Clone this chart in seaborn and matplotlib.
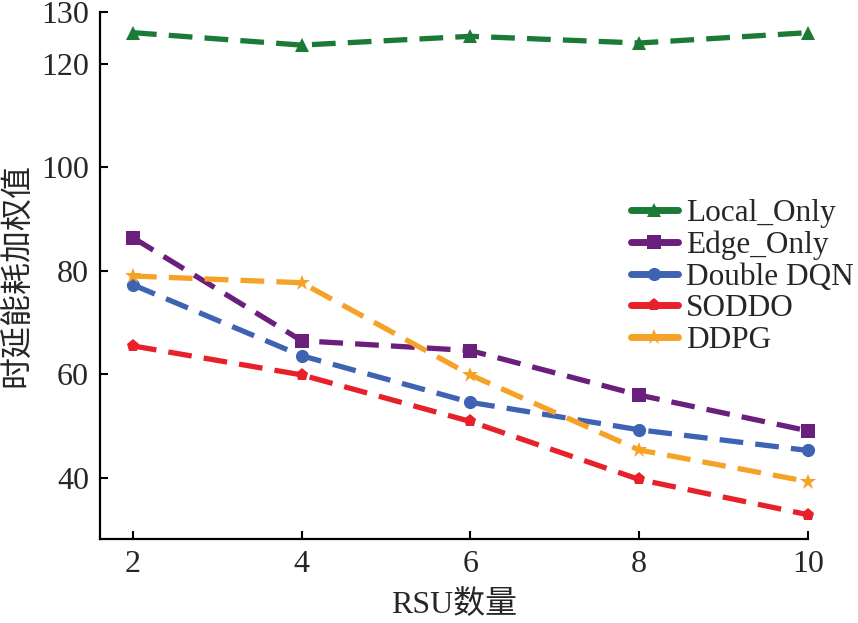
import pandas as pd
import matplotlib
matplotlib.use('Agg')
import matplotlib.pyplot as plt
import seaborn as sns

# data
rsu = [2, 4, 6, 8, 10]
local_only = [126.0, 123.6, 125.3, 124.0, 126.0]
edge_only = [86.4, 66.5, 64.6, 56.0, 49.1]
double_dqn = [77.3, 63.6, 54.6, 49.3, 45.3]
soddo = [65.5, 59.9, 50.9, 39.7, 32.9]
ddpg = [79.0, 77.7, 59.9, 45.4, 39.3]

methods = ['Local_Only', 'Edge_Only', 'Double DQN', 'SODDO', 'DDPG']
values = [local_only, edge_only, double_dqn, soddo, ddpg]

df = pd.DataFrame({
    'RSU': rsu * len(methods),
    'value': [v for vals in values for v in vals],
    'method': [m for m in methods for _ in rsu],
})

colors = {'Local_Only': '#1b7a36', 'Edge_Only': '#6b1f7c', 'Double DQN': '#3f63b3',
          'SODDO': '#e8202a', 'DDPG': '#f5a226'}
markers = {'Local_Only': '^', 'Edge_Only': 's', 'Double DQN': 'o', 'SODDO': 'p', 'DDPG': '*'}

sns.set_style('ticks')
plt.rcParams['font.family'] = ['Liberation Serif', 'Noto Sans CJK SC']

fig = plt.figure(figsize=(8.58, 6.23), dpi=100)
ax = fig.add_axes([0.1166, 0.1348, 0.825, 0.846])

for m in methods:
    sub = df[df['method'] == m]
    sns.lineplot(x='RSU', y='value', data=sub, ax=ax, color=colors[m], marker=markers[m],
                 markersize=12 if m == 'DDPG' else 9.5, markeredgewidth=0,
                 linewidth=3.8, dashes=(4.5, 2.3), label=m, clip_on=False)

ax.set_xlim(1.61, 10)
ax.set_ylim(28.2, 130)
ax.set_xticks(rsu)
ax.set_yticks([40, 60, 80, 100, 120, 130])
ax.tick_params(direction='in', length=6, width=1.5, labelsize=23, pad=8, color='black')
for s in ['left', 'bottom']:
    ax.spines[s].set_linewidth(1.6)
    ax.spines[s].set_color('black')
sns.despine(ax=ax)

ax.set_xlabel('RSU数量', fontsize=23, labelpad=8)
ax.set_ylabel('时延能耗加权值', fontsize=23, labelpad=6)

leg = ax.legend(loc='upper left', bbox_to_anchor=(0.75, 0.645), frameon=False, fontsize=22.5,
                handlelength=1.5, handletextpad=0.26, labelspacing=0.08, borderaxespad=0,
                borderpad=0)
for h in leg.get_lines():
    h.set_linestyle('-')
    h.set_linewidth(5)

fig.savefig('out.png', dpi=100)
